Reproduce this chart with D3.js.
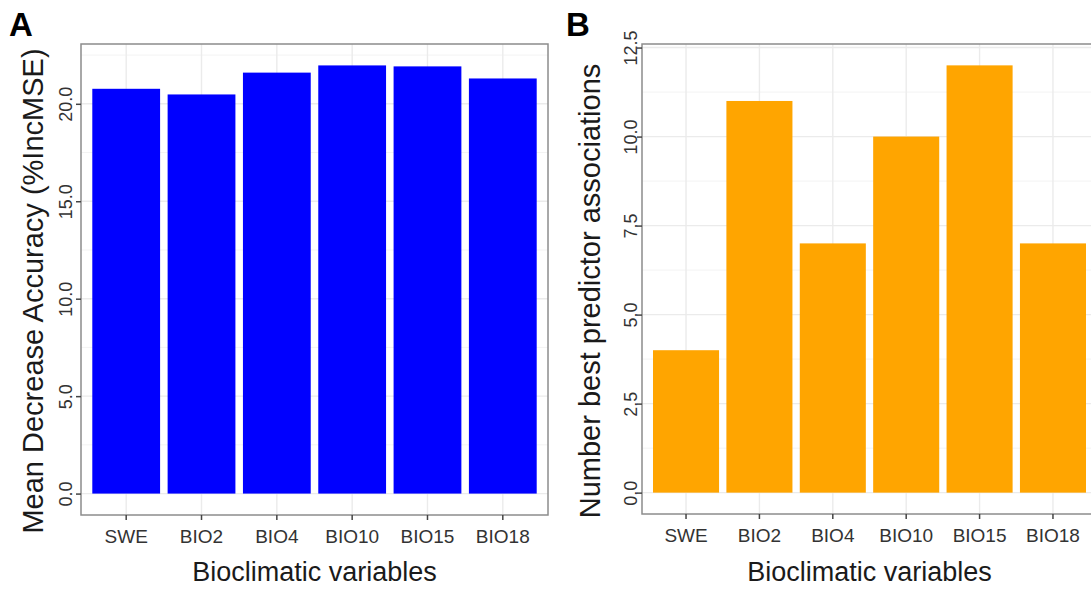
<!DOCTYPE html>
<html>
<head>
<meta charset="utf-8">
<script src="https://cdn.jsdelivr.net/npm/d3@7"></script>
<style>
  html, body { margin: 0; padding: 0; background: #fff; }
  svg { display: block; font-family: "Liberation Sans", Arial, sans-serif; }
</style>
</head>
<body>
<svg id="chart" width="1091" height="590"></svg>
<script>
// ---- data ----
const categories = ["SWE", "BIO2", "BIO4", "BIO10", "BIO15", "BIO18"];
const accuracyValues = [20.77, 20.48, 21.6, 21.97, 21.92, 21.3];
const bestPredictorCounts = [4, 11, 7, 10, 12, 7];
const accuracyTicks = [0, 5, 10, 15, 20];
const countTicks = [0, 2.5, 5, 7.5, 10, 12.5];
const xTitle = "Bioclimatic variables";
const accuracyTitle = "Mean Decrease Accuracy (%IncMSE)";
const countTitle = "Number best predictor associations";

const svg = d3.select("#chart");
const fmt = d3.format(".1f");

function panel(opts) {
  const { left, right, top, bottom, values, ticks, color, yTitle, label, labelX, yTitleX, tickTextX } = opts;
  const g = svg.append("g");
  const maxV = d3.max(values);
  const pad = maxV * 0.05;
  const y = d3.scaleLinear().domain([0 - pad, maxV + pad]).range([bottom, top]);
  const x = d3.scaleBand().domain(categories).range([left, right])
    .paddingInner(0.1).paddingOuter(0.15);

  const clipId = "clip" + label;
  svg.append("clipPath").attr("id", clipId)
    .append("rect").attr("x", left).attr("y", top).attr("width", right - left).attr("height", bottom - top);

  const inner = g.append("g").attr("clip-path", `url(#${clipId})`);
  // minor grid
  const step = ticks[1] - ticks[0];
  const ext = [ticks[0] - step, ...ticks, ticks[ticks.length - 1] + step];
  const minor = [];
  for (let i = 0; i < ext.length - 1; i++) {
    const m = (ext[i] + ext[i + 1]) / 2;
    if (m >= y.domain()[0] && m <= y.domain()[1]) minor.push(m);
  }
  inner.selectAll(".minor").data(minor).join("line")
    .attr("x1", left).attr("x2", right)
    .attr("y1", d => y(d)).attr("y2", d => y(d))
    .attr("stroke", "#f3f3f3").attr("stroke-width", 1);
  inner.selectAll(".major").data(ticks).join("line")
    .attr("x1", left).attr("x2", right)
    .attr("y1", d => y(d)).attr("y2", d => y(d))
    .attr("stroke", "#ebebeb").attr("stroke-width", 1.4);
  inner.selectAll(".vgrid").data(categories).join("line")
    .attr("x1", d => x(d) + x.bandwidth() / 2).attr("x2", d => x(d) + x.bandwidth() / 2)
    .attr("y1", top).attr("y2", bottom)
    .attr("stroke", "#ebebeb").attr("stroke-width", 1.4);

  // bars
  inner.selectAll(".bar").data(values).join("rect")
    .attr("x", (d, i) => x(categories[i]))
    .attr("width", x.bandwidth())
    .attr("y", d => y(d))
    .attr("height", d => y(0) - y(d))
    .attr("fill", color);

  // border
  g.append("rect").attr("x", left).attr("y", top)
    .attr("width", right - left).attr("height", bottom - top)
    .attr("fill", "none").attr("stroke", "#8c8c8c").attr("stroke-width", 1.5);

  // x axis
  const xa = g.append("g").attr("transform", `translate(0,${bottom})`)
    .call(d3.axisBottom(x).tickSize(5).tickPadding(10));
  xa.select(".domain").remove();
  xa.selectAll(".tick line").attr("stroke", "#444").attr("stroke-width", 1.5);
  xa.selectAll(".tick text").attr("fill", "#333").attr("font-size", 19)
    .attr("font-family", "Liberation Sans, Arial, sans-serif").attr("dy", "0.71em");

  // y axis
  const ya = g.append("g").attr("transform", `translate(${left},0)`)
    .call(d3.axisLeft(y).tickValues(ticks).tickSize(5).tickFormat(fmt));
  ya.select(".domain").remove();
  ya.selectAll(".tick line").attr("stroke", "#444").attr("stroke-width", 1.5);
  ya.selectAll(".tick text").remove();
  ya.selectAll(".tick").append("text")
    .attr("transform", `translate(${tickTextX - left},0) rotate(-90)`)
    .attr("text-anchor", "middle")
    .attr("fill", "#333").attr("font-size", 18)
    .attr("font-family", "Liberation Sans, Arial, sans-serif")
    .text(d => fmt(d));

  // titles
  g.append("text")
    .attr("x", (left + right) / 2).attr("y", 581)
    .attr("text-anchor", "middle").attr("font-size", 27).attr("fill", "#1a1a1a")
    .text(xTitle);
  g.append("text")
    .attr("transform", `translate(${yTitleX},291) rotate(-90)`)
    .attr("text-anchor", "middle").attr("font-size", 29).attr("fill", "#1a1a1a")
    .text(yTitle);

  // panel label
  g.append("text").attr("x", labelX).attr("y", 36)
    .attr("font-size", 33).attr("font-weight", "bold").attr("fill", "#000")
    .text(label);
}

panel({ left: 81, right: 548, top: 44, bottom: 515, values: accuracyValues, ticks: accuracyTicks,
  color: "#0000FF", yTitle: accuracyTitle, label: "A", labelX: 9, yTitleX: 43, tickTextX: 72 });
panel({ left: 642, right: 1097, top: 44, bottom: 514, values: bestPredictorCounts, ticks: countTicks,
  color: "#FFA500", yTitle: countTitle, label: "B", labelX: 566, yTitleX: 600, tickTextX: 637 });
</script>
</body>
</html>
